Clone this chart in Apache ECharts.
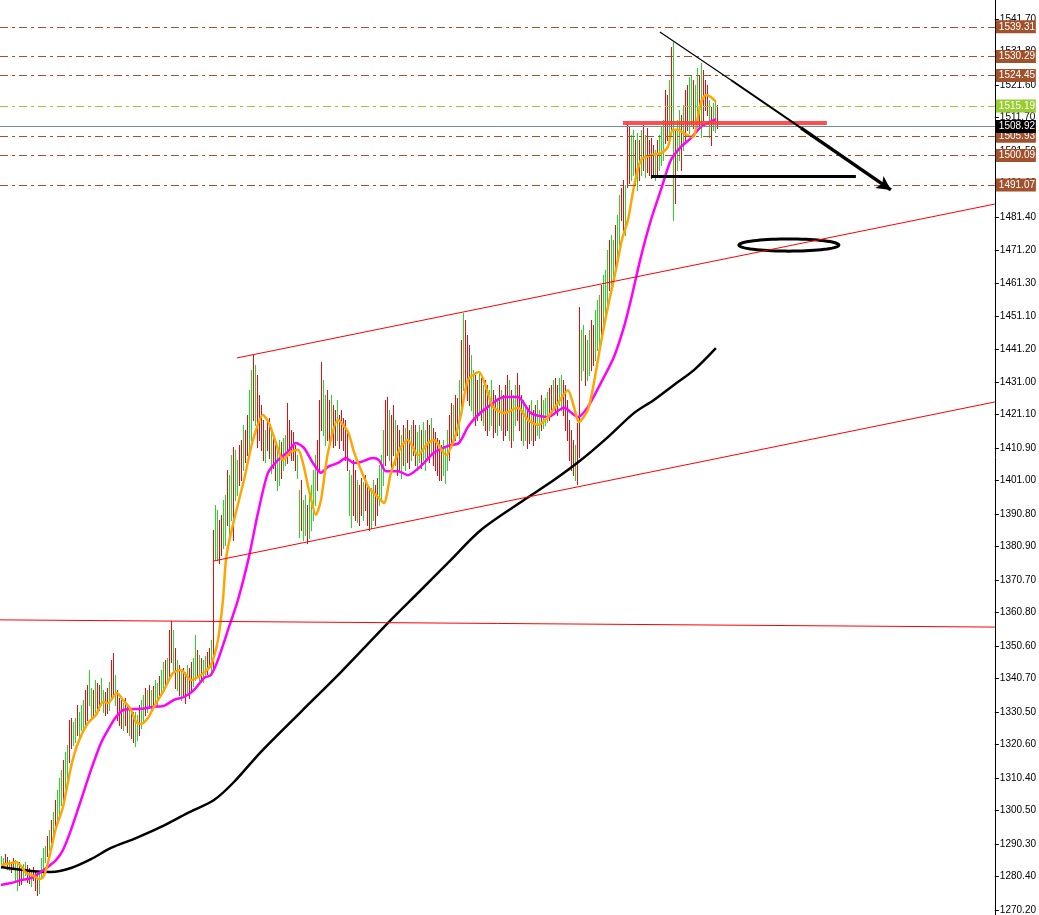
<!DOCTYPE html>
<html><head><meta charset="utf-8">
<script src="https://cdn.jsdelivr.net/npm/echarts@6/dist/echarts.min.js"></script>
<style>html,body{margin:0;padding:0;background:#fff}#c{width:1039px;height:915px}</style>
</head><body><div id="c"></div>
<script>
// ---- price bars (index = bar number) ----
const barHigh = [
1286.7,1286.1,1287.3,1286.4,1285.4,1284.8,1286.1,1285.4,1284.5,1284.8,
1283.6,1284.2,1284.8,1283.9,1283.0,1282.4,1283.3,1281.8,1281.2,1281.8,
1286.1,1289.1,1289.7,1292.7,1294.6,1297.6,1300.1,1303.7,1306.8,1310.4,
1312.9,1315.9,1318.4,1320.5,1328.1,1328.7,1327.5,1328.7,1332.7,1330.6,
1332.7,1334.2,1337.2,1338.7,1343.3,1337.8,1337.2,1340.3,1339.4,1338.7,
1340.9,1337.2,1336.6,1337.8,1339.7,1346.4,1348.5,1341.8,1337.2,1334.8,
1334.2,1333.3,1334.8,1332.7,1331.8,1331.2,1330.6,1330.6,1329.7,1332.7,
1334.2,1335.7,1337.8,1337.2,1338.7,1337.2,1338.4,1340.3,1339.4,1341.5,
1343.3,1345.8,1346.4,1347.0,1355.5,1358.3,1355.5,1350.0,1346.4,1344.9,
1343.3,1343.9,1342.7,1344.9,1343.9,1345.8,1347.0,1354.0,1349.4,1347.9,
1347.0,1346.4,1347.6,1348.8,1350.0,1352.5,1386.0,1393.6,1392.1,1389.0,
1390.6,1395.1,1396.6,1404.3,1402.8,1408.9,1411.3,1410.4,1407.3,1411.9,
1413.4,1418.0,1416.5,1421.0,1428.6,1434.7,1439.3,1436.2,1433.2,1427.1,
1424.1,1419.5,1416.5,1418.9,1420.1,1416.5,1414.9,1411.9,1410.4,1413.4,
1412.8,1414.0,1414.9,1424.7,1419.5,1416.5,1415.9,1411.9,1408.9,1398.2,
1401.2,1395.1,1396.6,1393.6,1396.6,1399.7,1404.3,1408.9,1413.4,1425.6,
1437.2,1431.7,1427.1,1428.6,1425.6,1427.1,1424.1,1422.6,1425.6,1421.0,
1422.6,1420.1,1419.5,1416.5,1404.3,1402.8,1407.3,1404.3,1401.2,1399.7,
1401.8,1400.6,1402.8,1399.7,1398.2,1398.8,1401.2,1399.7,1401.8,1405.8,
1408.9,1416.5,1425.6,1426.5,1422.6,1421.0,1424.1,1419.5,1418.0,1416.5,
1414.9,1418.0,1417.1,1419.5,1416.5,1418.0,1419.5,1418.0,1415.9,1418.0,
1416.5,1418.9,1416.5,1419.5,1418.0,1420.1,1417.1,1415.9,1414.0,1413.4,
1411.9,1413.4,1411.0,1416.5,1421.0,1424.7,1424.1,1427.1,1426.2,1431.7,
1443.9,1452.1,1450.0,1445.4,1442.4,1439.3,1434.7,1433.2,1431.7,1434.1,
1432.3,1430.2,1431.7,1430.2,1428.6,1431.7,1428.6,1427.1,1426.2,1430.2,
1428.6,1427.1,1430.2,1433.2,1431.7,1428.6,1427.1,1430.2,1433.8,1430.2,
1427.1,1425.6,1424.1,1422.6,1424.1,1425.6,1422.6,1424.1,1425.6,1422.6,
1427.1,1425.6,1426.2,1428.0,1429.2,1430.2,1431.7,1432.3,1430.2,1432.3,
1433.2,1431.7,1430.2,1425.6,1419.5,1416.5,1413.4,1411.9,1418.6,1453.9,
1446.9,1448.5,1445.4,1443.9,1446.9,1450.0,1448.5,1453.0,1456.1,1457.6,
1460.7,1463.7,1465.2,1471.3,1474.4,1475.9,1474.4,1478.9,1482.0,1488.1,
1490.2,1492.6,1491.1,1510.0,1508.8,1506.3,1507.9,1504.8,1507.0,1504.8,
1507.9,1509.4,1506.3,1508.5,1504.8,1505.4,1503.3,1501.8,1504.8,1506.3,
1508.8,1510.9,1520.1,1518.5,1523.1,1533.2,1534.7,1507.9,1510.9,1514.0,
1512.4,1515.5,1520.1,1521.6,1524.0,1524.6,1523.1,1521.6,1526.7,1524.6,
1528.3,1526.1,1523.1,1521.6,1517.0,1514.9,1516.1,1517.0,1515.5];
const barLow = [
1283.0,1283.6,1284.8,1282.7,1282.4,1281.8,1283.0,1279.3,1276.3,1277.8,
1278.1,1279.9,1280.9,1278.7,1278.4,1277.5,1279.3,1276.3,1274.8,1275.4,
1279.9,1280.9,1284.8,1286.7,1288.5,1290.9,1292.7,1295.2,1297.6,1299.1,
1302.2,1303.7,1306.8,1309.8,1315.3,1319.6,1320.5,1321.4,1323.6,1322.6,
1325.1,1325.7,1326.6,1328.1,1332.7,1328.1,1328.7,1330.6,1331.8,1331.2,
1332.7,1330.6,1329.7,1330.3,1331.2,1334.2,1335.7,1332.7,1328.1,1326.6,
1325.7,1325.1,1326.6,1324.5,1323.6,1322.6,1321.4,1320.2,1322.0,1323.6,
1325.7,1327.5,1329.7,1330.6,1331.8,1330.6,1332.7,1333.6,1332.4,1334.8,
1335.7,1337.2,1337.8,1339.1,1340.3,1345.8,1343.3,1337.8,1337.2,1335.7,
1334.2,1335.1,1333.3,1335.7,1334.8,1337.2,1338.4,1340.3,1341.5,1340.3,
1340.9,1339.7,1341.5,1342.1,1343.9,1342.7,1343.9,1376.9,1376.9,1376.0,
1378.4,1380.5,1381.4,1387.5,1384.5,1389.0,1382.9,1395.1,1396.6,1399.7,
1401.2,1404.3,1406.7,1408.9,1410.4,1413.4,1419.5,1418.0,1411.3,1413.4,
1410.4,1407.3,1406.7,1410.4,1407.9,1403.4,1404.9,1401.2,1398.2,1399.7,
1401.8,1404.3,1405.8,1406.4,1408.9,1407.3,1407.3,1404.3,1401.8,1383.8,
1386.0,1382.9,1384.5,1382.0,1383.5,1386.0,1389.0,1393.6,1398.2,1404.3,
1416.5,1414.9,1411.9,1413.4,1411.9,1413.4,1411.3,1411.9,1413.4,1411.0,
1413.4,1410.4,1407.3,1404.3,1390.6,1386.9,1390.6,1389.0,1388.4,1387.5,
1390.6,1389.0,1392.1,1387.5,1386.0,1386.6,1389.0,1387.5,1390.6,1393.6,
1395.1,1399.7,1405.8,1408.9,1407.3,1404.3,1408.9,1405.8,1402.8,1404.3,
1401.8,1405.8,1404.3,1406.7,1404.9,1407.3,1408.9,1405.8,1404.3,1406.7,
1404.9,1407.3,1404.3,1407.9,1406.7,1408.9,1405.8,1404.3,1402.8,1401.2,
1401.2,1402.8,1400.3,1404.3,1407.3,1411.9,1411.9,1413.4,1414.9,1413.4,
1422.6,1428.6,1430.2,1425.6,1424.1,1422.6,1419.5,1418.0,1419.5,1421.0,
1419.5,1418.0,1416.5,1414.9,1416.5,1418.0,1414.3,1415.9,1414.9,1418.0,
1416.5,1413.4,1414.9,1416.5,1413.4,1411.3,1413.4,1418.0,1419.5,1416.5,
1413.4,1411.9,1413.4,1411.0,1412.5,1413.4,1411.9,1413.4,1414.9,1414.0,
1416.5,1417.1,1418.0,1418.9,1419.5,1421.0,1422.6,1422.0,1421.0,1424.1,
1422.6,1421.0,1416.5,1413.4,1407.3,1404.3,1402.8,1401.2,1400.0,1408.2,
1431.7,1434.7,1430.2,1431.7,1433.2,1434.7,1436.3,1437.8,1440.8,1442.4,
1443.9,1446.9,1450.0,1453.0,1459.1,1460.7,1462.2,1463.7,1468.3,1472.8,
1480.4,1477.4,1475.9,1490.5,1491.7,1492.6,1494.2,1491.1,1489.6,1492.6,
1494.2,1495.7,1493.6,1495.1,1494.2,1493.2,1494.2,1492.6,1494.2,1495.7,
1497.2,1498.7,1503.9,1504.8,1506.3,1507.9,1480.4,1485.6,1495.7,1498.7,
1495.7,1501.8,1504.8,1507.9,1507.0,1509.4,1508.5,1510.9,1508.8,1509.4,
1505.7,1510.9,1514.0,1512.4,1505.7,1503.3,1507.9,1507.3,1508.5];
const barDir = (
"uuddudduud"+"duuddudddu"+"uuudududuu"+"uduudduudu"+"uudduududd"+
"uudduddudd"+"duddudduud"+"uudududuud"+"uududdudud"+"uddudduudu"+
"duudduduud"+"duuduuduud"+"dudduududd"+"dduddudduu"+"duuddddduu"+
"duuduuuudd"+"duudduddud"+"dddduuddud"+"duddduuddu"+"uudduddudd"+
"ududdudduu"+"duuddudddd"+"duuudduddu"+"duddduuddu"+"dudduuddud"+
"uddduduudd"+"duuddudduu"+"duuudduddu"+"uddddddudd"+"uuduudduuu"+
"duuuduuduu"+"ddudduudud"+"ududdddudu"+"uuddududuu"+"dudduuduud"+"uddduduud");

// ---- moving averages [bar index, price] ----
const maFast = [[0,1283.9],[5,1284.5],[7.5,1284.8],[10,1283.6],[12.5,1281.5],[15,1280.9],[17.5,1280.2],[19,1279.6],[21,1280.2],[22.5,1282.4],
[25,1288.5],[27.5,1295.2],[31,1301.6],[35,1313.8],[38.5,1321.1],[43.5,1327.2],[47.5,1329.6],[51,1333.6],[53.5,1333.3],[58,1336.3],
[61,1334.2],[65,1331.2],[67.5,1327.5],[70,1326.9],[73.5,1328.7],[76.5,1332.1],[81.5,1337.2],[86,1342.4],[90,1343.3],[95,1340.3],
[100,1341.8],[105,1344.9],[108.5,1352.5],[111,1364.7],[112.5,1376.9],[115,1385.1],[121.5,1401.2],[126,1413.4],[131,1421.0],[134,1418.6],
[137.5,1412.5],[141,1407.3],[145,1409.8],[148.5,1410.4],[151,1406.4],[154,1398.2],[157.5,1390.6],[160,1395.1],[163.5,1409.5],[168.5,1419.5],
[173.5,1415.9],[176.5,1409.8],[180,1404.3],[184,1398.8],[188.5,1396.0],[191.5,1394.2],[195,1403.4],[200,1411.3],[203.5,1413.4],[208.5,1408.8],
[213.5,1412.5],[216.5,1413.4],[222.5,1408.8],[226.5,1413.4],[230,1421.0],[233.5,1431.7],[239,1434.1],[243.5,1427.7],[246,1423.5],[251.5,1421.6],
[258.5,1423.2],[263.5,1419.5],[268.5,1418.0],[273.5,1420.4],[278.5,1424.7],[283.5,1428.6],[286.5,1423.5],[289,1418.9],[293.5,1422.6],[296.5,1430.8],
[300,1443.0],[303.5,1454.0],[307.5,1465.2],[310.5,1474.4],[313.5,1480.4],[316.5,1490.5],[320,1498.7],[325,1500.2],[330,1500.8],[333.5,1502.7],
[336,1507.9],[338.5,1507.9],[341.5,1506.9],[346,1505.7],[348.5,1511.8],[350,1516.1],[352.5,1518.5],[355,1517.9],[357.5,1516.4]];
const maMid = [[0,1277.8],[5,1278.4],[10,1279.3],[15,1279.9],[20,1281.8],[24,1283.6],[27.5,1285.4],[31,1288.5],[35,1294.6],[40,1303.7],
[45,1312.9],[50,1321.1],[53.5,1325.1],[57.5,1329.0],[61.5,1331.2],[70,1331.5],[76.5,1332.1],[81.5,1332.4],[86.5,1334.2],[91.5,1335.1],
[96.5,1337.2],[101.5,1340.9],[105,1341.8],[108.5,1346.4],[113.5,1355.5],[118.5,1364.7],[124,1377.8],[128.5,1391.2],[133.5,1403.4],[138.5,1407.3],
[143.5,1409.8],[147.5,1412.5],[151.5,1411.0],[156,1406.4],[160,1403.4],[163.5,1405.2],[168.5,1406.4],[172.5,1407.9],[176.5,1406.4],[180,1406.7],
[186,1407.9],[189,1407.3],[192.5,1403.9],[198.5,1403.9],[203.5,1402.7],[210,1405.5],[216.5,1409.5],[223.5,1411.6],[229,1412.5],[233.5,1417.4],
[237.5,1420.4],[243.5,1423.5],[251.5,1426.5],[258.5,1426.5],[265,1421.6],[273.5,1420.4],[281.5,1423.2],[288.5,1420.4],[293.5,1423.5],[300,1430.8],
[306.5,1438.7],[311.5,1447.8],[315,1456.1],[320,1469.2],[325,1480.4],[330,1489.6],[335,1498.7],[340,1502.7],[345,1505.4],[350,1508.8],[357.5,1511.2]];
const maSlow = [[0,1283.3],[15,1282.1],[25,1281.8],[35,1283.0],[45,1285.7],[55,1289.1],[67.5,1292.1],[80,1295.5],[93.5,1299.8],[106.5,1303.7],
[116.5,1309.2],[130,1318.4],[150,1330.6],[170,1342.7],[195,1358.6],[210,1367.7],[225,1376.9],[240,1386.0],[261.5,1395.1],[276.5,1401.2],
[290,1407.3],[303.5,1414.3],[316.5,1421.6],[326.5,1425.6],[336.5,1430.2],[346.5,1434.7],[357.5,1441.4]];

// ---- horizontal price levels ----
const brownLevels = [1539.31, 1530.29, 1524.45, 1505.93, 1500.09, 1491.07];
const greenLevels = [1515.19];
const bidPrice = 1508.92;
const priceTicks = [1541.70,1531.80,1521.60,1511.70,1501.50,1491.60,1481.40,1471.20,1461.30,1451.10,1441.20,1431.00,1421.10,1410.90,
1401.00,1390.80,1380.90,1370.70,1360.80,1350.60,1340.70,1330.50,1320.60,1310.40,1300.50,1290.30,1280.40,1270.20];

// ---- drawn objects [bar index, price] ----
const channelUpper = [[118, 1438.4], [497, 1485.3]];
const channelLower = [[106, 1376.5], [497, 1425.0]];
const flatSupport = [[-0.5, 1358.6], [497, 1356.4]];
const resistanceBar = [[311, 1510.0], [413, 1510.0]];
const supportBar = [[325, 1493.8], [427.5, 1493.8]];
const arrowPath = [[329.5, 1537.7], [365, 1523.1], [400, 1508.5], [445, 1489.6]];
const targetEllipse = [394, 1472.8, 25, 1.85]; // center index, center price, half width (bars), half height (price)

const AX_MIN = 1268.68, AX_MAX = 1547.47;
const chart = echarts.init(document.getElementById('c'));
const barData = barHigh.map((h, i) => [i, barLow[i], h, barDir[i] === 'd' ? 0 : 1]);

function seg(p, q, style, extra) {
  return [Object.assign({coord: p, lineStyle: style}, extra && extra.start || {}), Object.assign({coord: q}, extra && extra.end || {})];
}
const lvlLabel = (bg) => ({show: true, position: 'end', distance: 1, backgroundColor: bg, color: '#fff',
  fontSize: 10, fontFamily: 'Liberation Sans, Arial', padding: [1, 3, 1, 3], lineHeight: 11, width: 34,
  formatter: (p) => p.value.toFixed(2)});
const dashDot = [8, 4, 3, 4];
const levelItems = [];
brownLevels.forEach(v => levelItems.push({yAxis: v, lineStyle: {color: '#a0522d', width: 1, type: dashDot}, label: lvlLabel('#a0522d')}));
greenLevels.forEach(v => levelItems.push({yAxis: v, lineStyle: {color: '#9acd32', width: 1, type: dashDot}, label: lvlLabel('#9acd32')}));
levelItems.push({yAxis: bidPrice, lineStyle: {color: '#778899', width: 1, type: 'solid'}, label: lvlLabel('#000')});

const drawItems = [
  seg(channelUpper[0], channelUpper[1], {color: '#ff0000', width: 1, type: 'solid'}),
  seg(channelLower[0], channelLower[1], {color: '#ff0000', width: 1, type: 'solid'}),
  seg(flatSupport[0], flatSupport[1], {color: '#ff0000', width: 1, type: 'solid'}),
  seg(resistanceBar[0], resistanceBar[1], {color: '#ff3b3b', width: 4, type: 'solid', opacity: 0.9}),
  seg(supportBar[0], supportBar[1], {color: '#000', width: 3, type: 'solid'}),
  seg(arrowPath[0], arrowPath[1], {color: '#000', width: 1.2, type: 'solid'}),
  seg(arrowPath[1], arrowPath[2], {color: '#000', width: 2, type: 'solid'}),
  seg(arrowPath[2], arrowPath[3], {color: '#000', width: 3.5, type: 'solid'}, {end: {symbol: 'arrow', symbolSize: [11, 14]}})
];
drawItems.forEach(d => { d[0].label = {show: false}; });

const option = {
  animation: false,
  backgroundColor: '#fff',
  grid: {left: 0, right: 44, top: 0, bottom: 0, containLabel: false},
  xAxis: {type: 'value', min: -0.5, max: 497, show: false},
  yAxis: {
    type: 'value', position: 'right', min: AX_MIN, max: AX_MAX, z: 0,
    axisLine: {show: true, onZero: false, lineStyle: {color: '#000', width: 1}},
    axisTick: {show: true, length: 4, lineStyle: {color: '#000'}, customValues: priceTicks},
    axisLabel: {show: true, margin: 5, color: '#000', fontSize: 10, fontFamily: 'Liberation Sans, Arial',
      customValues: priceTicks, formatter: (v) => v.toFixed(2)},
    splitLine: {show: false}
  },
  series: [
    {
      type: 'custom', name: 'bars', data: barData, encode: {x: 0, y: [1, 2]}, z: 3,
      renderItem: function (params, api) {
        const i = api.value(0);
        const lo = api.coord([i, api.value(1)]);
        const hi = api.coord([i, api.value(2)]);
        const x = Math.round(lo[0]) + 0.5;
        return {type: 'line', shape: {x1: x, y1: Math.round(hi[1]), x2: x, y2: Math.round(lo[1]) + 1},
          style: {stroke: api.value(3) ? '#2ad42a' : '#e01010', lineWidth: 1}};
      }
    },
    {type: 'line', name: 'slow', data: maSlow, showSymbol: false, symbol: 'none', z: 4, smooth: 0.3,
      lineStyle: {color: '#000', width: 2.5},
      markLine: {silent: true, symbol: ['none', 'none'], animation: false, data: levelItems.concat(drawItems), z: 8}},
    {type: 'line', name: 'mid', data: maMid, showSymbol: false, symbol: 'none', z: 5, smooth: 0.25, lineStyle: {color: '#ff00ff', width: 2.5}},
    {type: 'line', name: 'fast', data: maFast, showSymbol: false, symbol: 'none', z: 6, smooth: 0.25, lineStyle: {color: '#ffa500', width: 2.5}},
    {
      type: 'custom', name: 'ellipse', data: [targetEllipse], encode: {x: 0, y: 1}, z: 7,
      renderItem: function (params, api) {
        const c = api.coord([api.value(0), api.value(1)]);
        const s = api.size([api.value(2), api.value(3)]);
        const pts = [];
        for (let k = 0; k < 72; k++) {
          const a = k / 72 * Math.PI * 2;
          pts.push([c[0] + s[0] * Math.cos(a), c[1] + s[1] * Math.sin(a)]);
        }
        return {type: 'polygon', shape: {points: pts}, style: {fill: 'none', stroke: '#000', lineWidth: 3}};
      }
    }
  ]
};
chart.setOption(option);
</script>
</body></html>
